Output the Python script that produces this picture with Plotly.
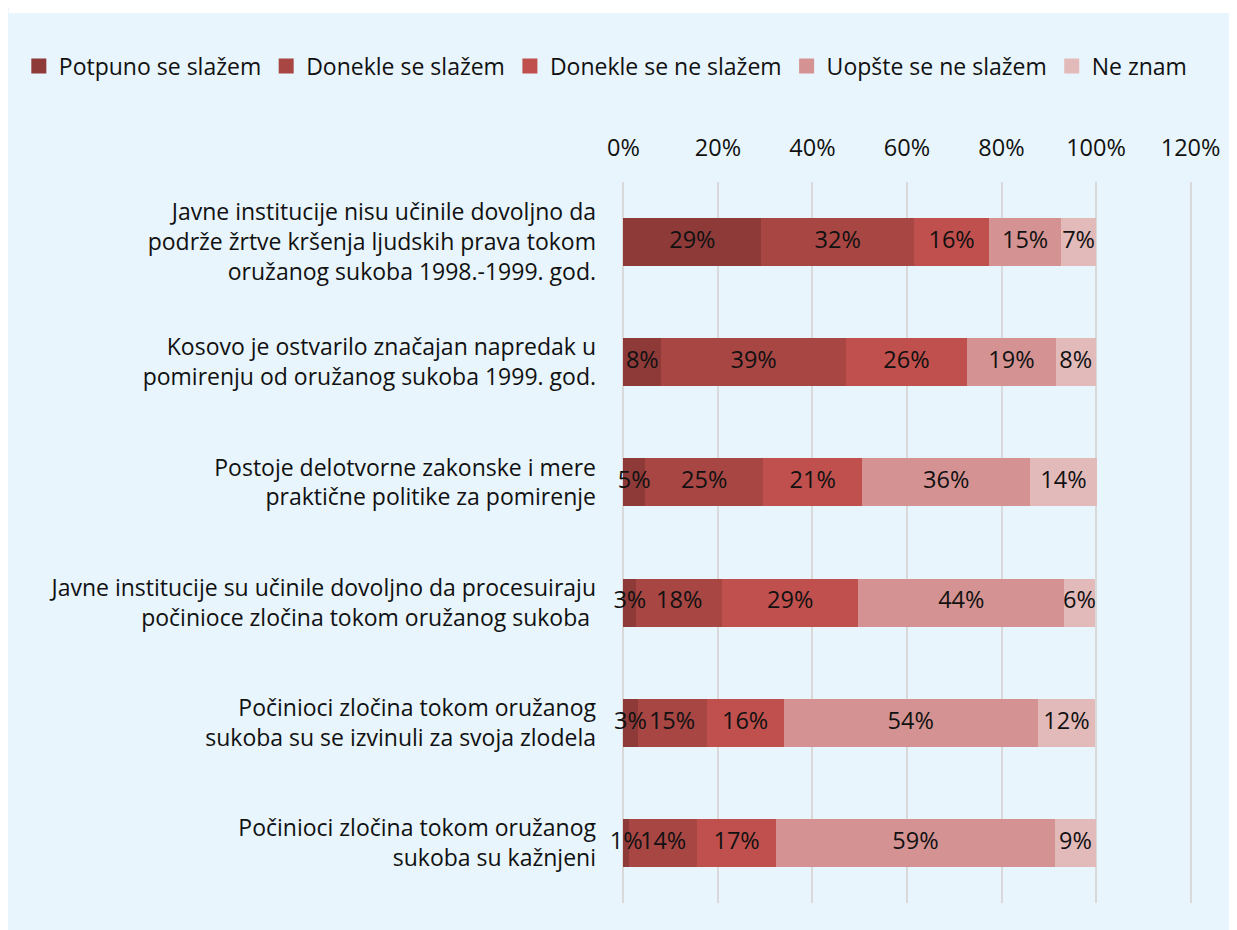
import plotly.graph_objects as go

categories = [
    "Javne institucije nisu učinile dovoljno da<br>podrže žrtve kršenja ljudskih prava tokom<br>oružanog sukoba 1998.-1999. god.",
    "Kosovo je ostvarilo značajan napredak u<br>pomirenju od oružanog sukoba 1999. god.",
    "Postoje delotvorne zakonske i mere<br>praktične politike za pomirenje",
    "Javne institucije su učinile dovoljno da procesuiraju<br>počinioce zločina tokom oružanog sukoba ",
    "Počinioci zločina tokom oružanog<br>sukoba su se izvinuli za svoja zlodela",
    "Počinioci zločina tokom oružanog<br>sukoba su kažnjeni",
]

series_names = ["Potpuno se slažem", "Donekle se slažem", "Donekle se ne slažem",
                "Uopšte se ne slažem", "Ne znam"]

potpuno = [29.2, 8.0, 4.6, 2.7, 3.0, 1.2]
donekle_slazem = [32.3, 39.1, 25.0, 18.2, 14.6, 14.4]
donekle_ne = [15.9, 25.6, 20.9, 28.8, 16.3, 16.7]
uopste = [15.2, 18.8, 35.6, 43.6, 53.8, 59.0]
ne_znam = [7.4, 8.4, 14.0, 6.4, 12.1, 8.7]

tick_vals = [0, 20, 40, 60, 80, 100, 120]
tick_text = ["0%", "20%", "40%", "60%", "80%", "100%", "120%"]

colors = ["#8E3A38", "#A84644", "#C0504D", "#D49392", "#E3BABA"]
series = [potpuno, donekle_slazem, donekle_ne, uopste, ne_znam]

FONT = "Open Sans"
TXT = "#111111"

fig = go.Figure()
for name, vals, col in zip(series_names, series, colors):
    fig.add_trace(go.Bar(
        y=categories, x=vals, name=name, orientation="h",
        marker=dict(color=col, line=dict(width=0)),
        width=0.4, hoverinfo="x+name", showlegend=False,
    ))

# legend entries with larger square swatches
for name, col in zip(series_names, colors):
    fig.add_trace(go.Scatter(
        x=[None], y=[None], mode="markers", name=name,
        marker=dict(symbol="square", size=15, color=col),
        showlegend=True, hoverinfo="skip",
    ))

# value labels drawn on top of all bars, placed at segment centres
cum = [0.0] * len(categories)
for name, vals in zip(series_names, series):
    mids = [c + v / 2 for c, v in zip(cum, vals)]
    cum = [c + v for c, v in zip(cum, vals)]
    fig.add_trace(go.Scatter(
        x=mids, y=categories, mode="text",
        text=[f"{round(v)}%" for v in vals],
        textposition="middle center",
        textfont=dict(family=FONT, size=23.5, color=TXT),
        showlegend=False, hoverinfo="skip", cliponaxis=False,
    ))

W, H = 1229, 922
ml, mr, mt, mb = 613.6, 45, 174, 27
pw, ph = W - ml - mr, H - mt - mb

# thin white strip at the very top
fig.add_shape(type="rect", xref="paper", yref="paper",
              x0=-ml / pw, x1=(W - ml) / pw,
              y0=(H - mb - 5) / ph, y1=(H - mb) / ph,
              fillcolor="white", line=dict(width=0), layer="below")

fig.update_layout(
    width=W, height=H,
    barmode="stack",
    margin=dict(l=ml, r=mr, t=mt, b=mb, autoexpand=False),
    paper_bgcolor="#E8F5FC", plot_bgcolor="rgba(0,0,0,0)",
    font=dict(family=FONT, size=20, color=TXT),
    showlegend=True,
    legend=dict(orientation="h", xref="paper", yref="paper",
                x=(10 - ml) / pw, y=(H - mb - 58) / ph, xanchor="left", yanchor="middle",
                font=dict(family=FONT, size=23, color=TXT),
                traceorder="normal", bgcolor="rgba(0,0,0,0)"),
    xaxis=dict(side="top", range=[-0.3, 120.3], tickvals=tick_vals, ticktext=tick_text,
               showgrid=True, gridcolor="#D9D9D9", gridwidth=1.5,
               zeroline=False, showline=False, ticks="",
               ticklabelstandoff=20, fixedrange=True,
               tickfont=dict(family=FONT, size=23.5, color=TXT)),
    yaxis=dict(autorange="reversed", showgrid=False, zeroline=False, showline=False,
               ticks="", ticklabelstandoff=25,
               tickfont=dict(family=FONT, size=23, color=TXT)),
)

fig.write_html("out.html")
